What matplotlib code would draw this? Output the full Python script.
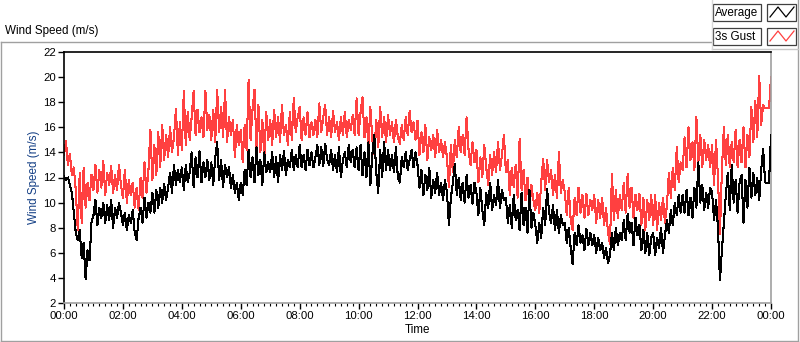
import numpy as np
import matplotlib
matplotlib.use("Agg")
import matplotlib.pyplot as plt
from matplotlib.lines import Line2D
from matplotlib.patches import Rectangle

# ---------------- data (4-minute steps, 00:00 .. 24:00) ----------------
step_minutes = 4
gust = [
    13.8, 14.9, 13.0, 13.9, 12.2, 12.8, 11.0, 7.8, 12.4, 8.4, 12.8, 9.6, 11.6, 10.2, 12.2,
    11.0, 13.0, 10.8, 12.6, 11.2, 13.3, 10.6, 12.4, 11.4, 12.9, 10.8, 12.2, 11.0, 13.0, 11.4,
    10.4, 12.6, 10.0, 11.8, 10.6, 11.6, 9.6, 11.2, 9.4, 12.0, 10.4, 13.2, 10.8, 12.6, 15.8,
    11.8, 14.6, 12.2, 15.6, 12.8, 16.2, 13.4, 15.4, 13.6, 16.0, 14.0, 15.2, 17.5, 13.8, 16.4,
    14.2, 18.9, 14.6, 17.2, 15.0, 16.8, 18.9, 15.4, 17.4, 15.6, 16.8, 15.2, 18.9, 15.8, 17.0,
    15.0, 17.4, 14.8, 19.0, 15.6, 17.6, 15.2, 19.0, 14.8, 16.8, 15.4, 16.6, 13.6, 16.2, 14.6,
    15.8, 13.2, 16.2, 14.2, 19.8, 15.0, 17.4, 19.0, 14.4, 17.8, 14.0, 16.6, 13.6, 17.2, 15.0,
    16.6, 14.6, 17.4, 15.2, 16.8, 14.8, 17.8, 15.4, 16.2, 14.6, 17.2, 15.0, 18.3, 15.6, 16.8,
    17.6, 15.0, 16.8, 15.4, 17.2, 15.2, 16.4, 15.4, 16.6, 15.2, 17.9, 15.6, 16.8, 17.8, 15.4,
    16.8, 15.2, 17.3, 15.6, 16.4, 15.0, 16.8, 15.4, 17.2, 15.2, 16.6, 15.8, 17.0, 15.4, 18.3,
    15.4, 17.2, 18.4, 15.2, 16.8, 14.6, 17.6, 15.0, 13.9, 16.6, 14.4, 17.6, 15.2, 16.8, 14.8,
    17.0, 15.4, 16.4, 14.8, 16.6, 15.2, 14.7, 16.2, 15.0, 16.8, 15.4, 17.3, 15.6, 16.4, 15.0,
    16.5, 13.8, 15.6, 14.0, 16.2, 13.4, 15.2, 14.2, 15.4, 13.6, 15.8, 14.0, 15.0, 13.6, 14.8,
    13.6, 11.2, 14.6, 12.4, 15.0, 13.6, 16.0, 14.0, 15.4, 13.8, 16.8, 14.2, 13.0, 14.8, 13.2,
    14.2, 11.6, 13.6, 12.0, 14.6, 12.8, 11.4, 13.8, 12.2, 14.0, 12.4, 14.8, 12.6, 13.8, 15.4,
    12.4, 13.4, 10.6, 12.8, 11.2, 13.0, 10.4, 15.1, 11.0, 12.6, 10.2, 12.0, 9.4, 11.4, 10.2,
    9.4, 10.8, 9.2, 11.6, 13.5, 11.0, 13.4, 11.6, 12.6, 10.6, 12.2, 10.4, 14.0, 10.8, 11.8,
    10.8, 9.0, 11.2, 8.6, 7.8, 10.4, 9.0, 11.2, 9.2, 10.6, 8.8, 10.7, 9.0, 10.2, 9.4,
    10.6, 8.4, 10.2, 8.8, 10.4, 8.2, 9.6, 7.6, 6.7, 12.3, 8.6, 11.0, 8.8, 10.6, 9.4,
    11.6, 9.2, 12.3, 9.6, 11.2, 8.8, 10.6, 9.4, 10.7, 8.2, 10.4, 7.8, 10.2, 8.6, 10.6,
    8.2, 10.6, 7.8, 10.0, 8.6, 10.4, 8.4, 9.8, 12.4, 10.4, 12.8, 11.0, 14.4, 11.6, 13.2,
    12.6, 15.2, 12.8, 16.0, 13.4, 14.8, 12.6, 16.8, 13.2, 15.4, 12.8, 15.0, 13.4, 14.6, 12.8,
    14.6, 11.4, 15.0, 12.0, 7.5, 12.6, 16.0, 13.0, 15.4, 12.8, 14.8, 13.2, 15.8, 12.8, 15.0,
    13.2, 16.0, 12.8, 15.4, 13.6, 17.6, 14.8, 18.1, 15.2, 20.1, 16.2, 17.8, 17.5, 17.5, 17.5,
    20.0,
]
average = [
    12.1, 11.8, 12.0, 11.4, 10.8, 9.2, 7.6, 7.0, 7.8, 5.6, 6.8, 3.9, 6.2, 5.4, 8.4,
    9.0, 10.2, 8.2, 9.6, 8.8, 10.0, 8.4, 9.8, 8.6, 10.2, 8.0, 9.6, 8.8, 10.0, 9.2,
    8.2, 9.2, 7.8, 9.0, 8.4, 9.4, 7.6, 7.0, 8.8, 9.6, 8.4, 10.4, 8.8, 10.0, 9.2,
    10.8, 9.2, 11.0, 9.6, 11.2, 10.0, 11.5, 10.2, 11.2, 12.4, 10.8, 13.0, 11.4, 12.6, 11.6,
    12.8, 11.0, 13.0, 11.6, 12.4, 14.0, 11.2, 13.6, 12.0, 14.1, 11.6, 13.2, 12.0, 13.4, 11.8,
    13.2, 11.4, 13.6, 14.8, 11.8, 13.4, 11.2, 13.0, 12.0, 12.8, 11.2, 12.2, 10.8, 11.6, 10.2,
    11.6, 10.6, 12.6, 11.4, 14.2, 12.0, 13.6, 11.6, 14.4, 12.2, 13.4, 11.4, 14.0, 12.4, 13.2,
    12.4, 14.0, 12.0, 13.6, 11.6, 13.8, 12.6, 14.1, 12.2, 13.4, 12.8, 14.2, 12.6, 13.8, 12.8,
    14.6, 12.8, 13.8, 12.6, 14.2, 13.0, 14.0, 12.8, 13.6, 14.6, 13.0, 14.4, 12.9, 14.7, 13.4,
    13.0, 14.2, 12.6, 13.8, 12.4, 14.4, 12.0, 13.4, 14.0, 12.8, 14.6, 13.2, 14.2, 12.8, 14.4,
    12.6, 14.6, 12.2, 14.0, 12.0, 14.8, 11.4, 13.8, 15.4, 12.4, 10.8, 14.2, 12.0, 14.8, 12.6,
    14.2, 12.6, 13.8, 12.4, 14.4, 12.0, 11.6, 13.6, 12.8, 14.0, 12.6, 13.4, 14.2, 12.8, 14.0,
    13.0, 11.2, 12.6, 10.6, 12.2, 11.0, 12.8, 10.4, 11.8, 10.8, 12.4, 10.6, 11.6, 10.2, 11.8,
    10.8, 8.2, 10.4, 11.6, 13.1, 10.6, 12.0, 10.2, 11.6, 10.0, 12.2, 10.4, 11.4, 9.9, 11.6,
    10.8, 9.0, 11.2, 9.4, 8.2, 10.8, 9.6, 11.6, 9.4, 10.6, 9.8, 11.8, 9.6, 11.0, 10.2,
    10.4, 8.4, 9.8, 8.0, 10.6, 8.6, 9.4, 7.8, 10.8, 8.2, 9.6, 7.6, 11.0, 8.0, 9.2,
    8.2, 6.8, 8.4, 7.2, 9.6, 8.2, 11.1, 9.2, 8.4, 9.8, 7.8, 9.4, 7.6, 9.0, 8.2,
    8.4, 6.8, 8.0, 6.4, 5.1, 7.6, 6.6, 8.2, 6.8, 7.4, 6.2, 7.9, 6.6, 7.6, 6.6,
    7.4, 6.0, 7.2, 6.2, 6.8, 5.6, 6.4, 5.2, 5.8, 7.6, 6.2, 8.0, 6.6, 7.6, 7.0,
    8.6, 7.0, 9.1, 7.6, 8.4, 6.6, 8.8, 7.4, 8.2, 6.2, 7.8, 6.0, 7.6, 5.8, 7.2,
    7.6, 5.8, 7.2, 6.4, 8.0, 6.0, 7.4, 8.6, 7.6, 9.4, 8.2, 10.0, 9.0, 10.6, 9.2,
    10.6, 9.2, 11.0, 9.0, 10.4, 8.8, 11.2, 9.6, 13.2, 10.0, 11.4, 9.4, 10.8, 9.6, 11.2,
    10.8, 8.6, 10.2, 8.0, 3.8, 6.2, 8.4, 10.6, 12.4, 9.4, 13.0, 10.0, 11.8, 9.2, 11.6,
    12.2, 8.4, 11.8, 9.6, 12.8, 10.4, 12.4, 10.6, 12.0, 10.2, 12.6, 14.3, 11.6, 11.6, 11.6,
    15.4,
]
x_ticks = [0, 2, 4, 6, 8, 10, 12, 14, 16, 18, 20, 22, 24]
x_labels = ["00:00", "02:00", "04:00", "06:00", "08:00", "10:00", "12:00",
            "14:00", "16:00", "18:00", "20:00", "22:00", "00:00"]
y_ticks = [2, 4, 6, 8, 10, 12, 14, 16, 18, 20, 22]
series_names = ["Average", "3s Gust"]

# ---------------- figure ----------------
W, H = 800, 342
FONT = "Liberation Sans"
plt.rcParams["font.family"] = [FONT, "DejaVu Sans"]
fig = plt.figure(figsize=(W / 100, H / 100), dpi=100)
fig.patch.set_facecolor("white")


def fx(x):
    return x / W


def fy(y):
    return 1 - y / H


RED = "#ff4040"
GREY = "#a0a0a0"

# outer frame
fig.add_artist(Line2D([fx(0.5), fx(712)], [fy(42), fy(42)], color=GREY, lw=1.0))
fig.add_artist(Line2D([fx(0.5), fx(0.5)], [fy(42), fy(341)], color=GREY, lw=1.0))
fig.add_artist(Line2D([fx(0.5), fx(798)], [fy(341), fy(341)], color=GREY, lw=1.0))
fig.add_artist(Line2D([fx(798), fx(798)], [fy(0), fy(341)], color=GREY, lw=1.0))
fig.add_artist(Line2D([fx(712), fx(798)], [fy(49), fy(49)], color="#c8c8c8", lw=1.0))
fig.add_artist(Line2D([fx(712), fx(712)], [fy(0), fy(49)], color="#d8d8d8", lw=1.0))

fig.text(fx(5), fy(31), "Wind Speed (m/s)", fontsize=8.4, ha="left", va="center",
         color="black")

ax = fig.add_axes([fx(64), fy(303), fx(771) - fx(64), fy(52) - fy(303)])
t = np.arange(len(average)) * step_minutes / 60.0
ax.plot(t, gust, color=RED, lw=0.75, zorder=2, antialiased=False)
ax.plot(t, average, color="black", lw=0.75, zorder=3, antialiased=False)

ax.set_xlim(0, 24)
ax.set_ylim(2, 22)
ax.set_xticks(x_ticks)
ax.set_xticklabels(x_labels)
ax.set_xticks(np.arange(0, 24.01, 0.2), minor=True)
ax.set_yticks(y_ticks)
ax.tick_params(axis="both", which="major", direction="out", length=4, width=1,
               labelsize=8.2, pad=2, colors="black")
ax.tick_params(axis="x", which="minor", direction="out", length=2.5, width=0.8,
               color="black")
ax.tick_params(axis="y", which="minor", left=False)
for s in ("left", "top"):
    ax.spines[s].set_color("black")
    ax.spines[s].set_linewidth(1.2)
for s in ("right", "bottom"):
    ax.spines[s].set_color(GREY)
    ax.spines[s].set_linewidth(1.2)
ax.set_xlabel("Time", fontsize=8.4, labelpad=2)
ax.set_ylabel("Wind Speed (m/s)", fontsize=8.4, color="#143f85", labelpad=2)

# legend (LabVIEW style boxes)
rows = [(4, 21, series_names[0], "black"), (28, 45, series_names[1], RED)]
for top, bot, name, col in rows:
    fig.add_artist(Rectangle((fx(713), fy(bot)), fx(761) - fx(713), fy(top) - fy(bot),
                             facecolor="white", edgecolor="#404040", lw=0.9))
    fig.text(fx(715), fy((top + bot) / 2 + 0.5), name, fontsize=8.4, ha="left",
             va="center")
    fig.add_artist(Rectangle((fx(767), fy(bot)), fx(796) - fx(767), fy(top) - fy(bot),
                             facecolor="white", edgecolor="#404040", lw=0.9))
    zx = [770, 778, 786, 794]
    zy = [bot - 4, top + 3, bot - 4, top + 3]
    fig.add_artist(Line2D([fx(v) for v in zx], [fy(v) for v in zy], color=col, lw=0.9))

fig.savefig("out.png", dpi=100)
